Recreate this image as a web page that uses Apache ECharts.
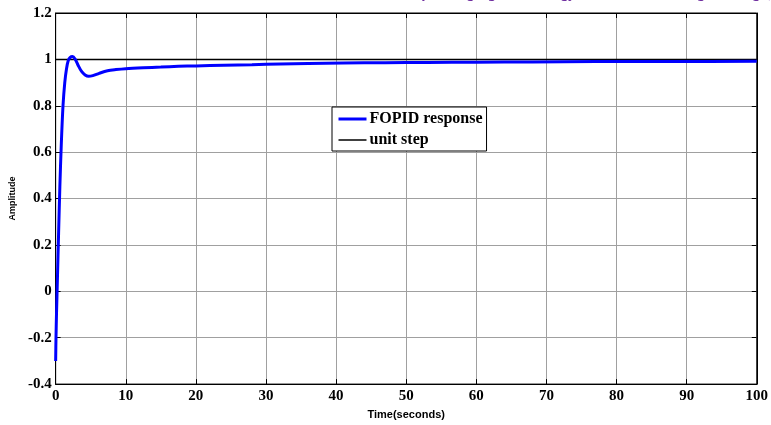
<!DOCTYPE html>
<html lang="en">
<head>
    <meta charset="UTF-8">
    <title>FOPID response</title>
    <script src="https://cdn.jsdelivr.net/npm/echarts@6/dist/echarts.min.js"></script>
    <style>
        html, body { margin: 0; padding: 0; background: #fff; }
        #container { width: 771px; height: 425px; }
    </style>
</head>
<body>
<div id="container"></div>
<script>
    // data
    var timeSec = [0, 0.05, 0.12, 0.25, 0.42, 0.6, 0.8, 1.05, 1.3, 1.55, 1.8, 2.05, 2.4, 2.8, 3.2, 3.7, 4.2, 4.7, 5.3, 6.2, 7.4, 8.6, 10, 12.5, 15, 17.5, 20, 24, 28, 32, 36, 41, 47, 53, 60, 68, 77, 88, 100];
    var fopid = [-0.3, -0.2, -0.1, 0.05, 0.25, 0.45, 0.63, 0.8, 0.9, 0.96, 0.995, 1.008, 1.012, 1.0, 0.975, 0.948, 0.933, 0.927, 0.93, 0.94, 0.951, 0.956, 0.96, 0.964, 0.967, 0.97, 0.972, 0.975, 0.977, 0.98, 0.982, 0.984, 0.986, 0.987, 0.988, 0.989, 0.991, 0.991, 0.992];
    var stepTime = [0, 100];
    var stepVal = [1, 1];
    var yTicks = [-0.4, -0.2, 0, 0.2, 0.4, 0.6, 0.8, 1, 1.2];

    var fopidData = timeSec.map(function (t, i) { return [t, fopid[i]]; });
    var stepData = stepTime.map(function (t, i) { return [t, stepVal[i]]; });

    var myChart = echarts.init(document.getElementById('container'));

    var serif = '"Liberation Serif", "Times New Roman", serif';
    var sans = '"Liberation Sans", Arial, sans-serif';
    var labelStyle = { color: '#000', fontFamily: serif, fontWeight: 'bold', fontSize: 15 };
    var tick = { show: true, inside: true, length: 5, lineStyle: { color: '#000', width: 1 } };

    var option = {
        animation: false,
        backgroundColor: '#fff',
        grid: {
            left: 54, right: 12, top: 13, bottom: 37,
            show: true, borderColor: '#000', borderWidth: 1
        },
        // caption from the page above, cut off at the top edge
        graphic: [{
            type: 'text',
            x: 771,
            y: 1,
            style: {
                text: 'Journal of Emerging Technology and Advanced Engineering (',
                fill: '#7030a0',
                font: 'italic bold 16px ' + serif,
                align: 'right',
                verticalAlign: 'bottom'
            },
            silent: true
        }],
        legend: {
            orient: 'vertical',
            left: 332, top: 107,
            padding: [4, 4, 3, 5],
            itemGap: 5,
            itemWidth: 28,
            itemHeight: 14,
            borderColor: '#000',
            borderWidth: 1,
            backgroundColor: '#fff',
            itemStyle: { opacity: 0 },
            textStyle: { color: '#000', fontFamily: serif, fontWeight: 'bold', fontSize: 16, padding: [0, 0, 0, -2] },
            data: [
                { name: 'FOPID response', lineStyle: { width: 3 } },
                { name: 'unit step', lineStyle: { width: 1.5 } }
            ]
        },
        xAxis: [{
            type: 'value',
            min: 0, max: 100, interval: 10,
            name: 'Time(seconds)',
            nameLocation: 'middle',
            nameGap: 21,
            nameTextStyle: { color: '#000', fontFamily: sans, fontWeight: 'bold', fontSize: 11 },
            axisLine: { show: true, onZero: false, lineStyle: { color: '#000', width: 1 } },
            axisTick: tick,
            axisLabel: Object.assign({ margin: 5 }, labelStyle),
            splitLine: { show: true, lineStyle: { color: '#a0a0a0', width: 1 } }
        }, {
            type: 'value',
            position: 'top',
            min: 0, max: 100, interval: 10,
            axisLine: { show: true, onZero: false, lineStyle: { color: '#000' } },
            axisTick: tick,
            axisLabel: { show: false },
            splitLine: { show: false }
        }],
        yAxis: [{
            type: 'value',
            min: -0.4, max: 1.2, interval: 0.2,
            name: 'Amplitude',
            nameLocation: 'middle',
            nameGap: 35,
            nameTextStyle: { color: '#000', fontFamily: sans, fontWeight: 'bold', fontSize: 9 },
            axisLine: { show: true, onZero: false, lineStyle: { color: '#000', width: 1 } },
            axisTick: tick,
            axisLabel: Object.assign({
                margin: 4,
                formatter: function (v) {
                    var r = Math.round(v * 10) / 10;
                    return yTicks.indexOf(r) >= 0 ? String(r) : '';
                }
            }, labelStyle),
            splitLine: { show: true, lineStyle: { color: '#a0a0a0', width: 1 } }
        }, {
            type: 'value',
            position: 'right',
            min: -0.4, max: 1.2, interval: 0.2,
            axisLine: { show: true, onZero: false, lineStyle: { color: '#000' } },
            axisTick: tick,
            axisLabel: { show: false },
            splitLine: { show: false }
        }],
        series: [{
            type: 'line',
            name: 'FOPID response',
            data: fopidData,
            showSymbol: false,
            symbol: 'none',
            smooth: 0.3,
            lineStyle: { color: '#0000ff', width: 3 },
            itemStyle: { color: '#0000ff' },
            z: 3
        }, {
            type: 'line',
            name: 'unit step',
            data: stepData,
            showSymbol: false,
            symbol: 'none',
            lineStyle: { color: '#000', width: 1.5 },
            itemStyle: { color: '#000' },
            z: 2
        }]
    };

    myChart.setOption(option);
</script>
</body>
</html>
